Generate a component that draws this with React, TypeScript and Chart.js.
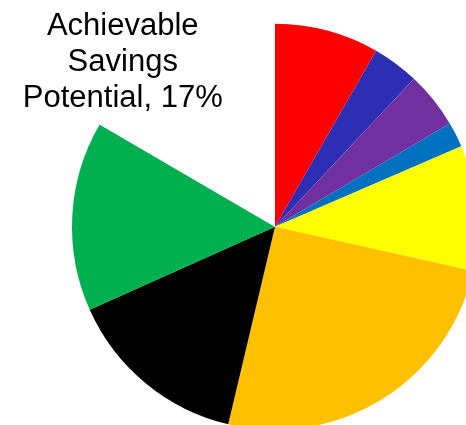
import React, { useEffect, useRef } from "react";
import { Chart, registerables } from "chart.js";

Chart.register(...registerables);

const categories = [
  "Category 1",
  "Category 2",
  "Category 3",
  "Category 4",
  "Category 5",
  "Category 6",
  "Category 7",
  "Category 8",
  "Achievable Savings Potential",
];
const values = [8.3, 3.7, 4.5, 2, 10, 25.2, 14.6, 15.1, 16.6];
const colors = [
  "#FF0000",
  "#2E2EB4",
  "#7030A0",
  "#0070C0",
  "#FFFF00",
  "#FFC000",
  "#000000",
  "#00B050",
  "#FFFFFF",
];
const labelLines = ["Achievable", "Savings", "Potential, 17%"];
const labelIndex = 8;

const labelPlugin = {
  id: "savingsLabel",
  afterDatasetsDraw(chart: any) {
    const meta = chart.getDatasetMeta(0);
    const arc = meta.data[labelIndex];
    if (!arc) return;
    const { x, y, outerRadius } = arc.getProps(["x", "y", "outerRadius"], true);
    const ctx = chart.ctx;
    ctx.save();
    ctx.fillStyle = "#000000";
    ctx.font = '31px "Liberation Sans", Arial, sans-serif';
    ctx.textAlign = "center";
    ctx.textBaseline = "alphabetic";
    const tx = x - outerRadius * 0.75;
    const ty = y - outerRadius * 0.943;
    labelLines.forEach((line, i) => {
      ctx.fillText(line, tx, ty + i * 36);
    });
    ctx.restore();
  },
};

export default function App() {
  const ref = useRef<HTMLCanvasElement | null>(null);
  useEffect(() => {
    if (!ref.current) return;
    const chart = new Chart(ref.current, {
      type: "pie",
      data: {
        labels: categories,
        datasets: [
          {
            data: values,
            backgroundColor: colors,
            borderWidth: 0,
            hoverOffset: 0,
          },
        ],
      },
      options: {
        animation: false,
        responsive: false,
        layout: { padding: { left: 72, top: 23.5, right: 0, bottom: 0 } },
        plugins: {
          legend: { display: false },
          tooltip: { enabled: false },
        },
      },
      plugins: [labelPlugin],
    });
    return () => chart.destroy();
  }, []);
  return (
    <div
      style={{
        position: "fixed",
        left: 0,
        top: 0,
        width: 466,
        height: 425,
        overflow: "hidden",
        background: "#FFFFFF",
      }}
    >
      <canvas ref={ref} width={478} height={430} style={{ display: "block" }} />
    </div>
  );
}
